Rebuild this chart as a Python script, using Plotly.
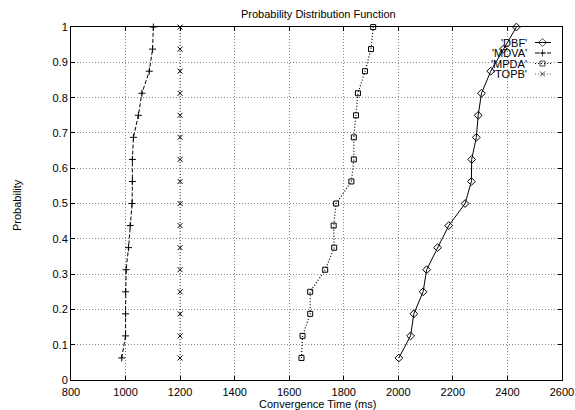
import plotly.graph_objects as go

prob = [0.0625, 0.125, 0.1875, 0.25, 0.3125, 0.375, 0.4375, 0.5,
        0.5625, 0.625, 0.6875, 0.75, 0.8125, 0.875, 0.9375, 1.0]

dbf = [2002, 2045, 2057, 2091, 2104, 2144, 2185, 2245,
       2268, 2269, 2286, 2293, 2305, 2339, 2385, 2433]
mdva = [986, 1000, 1000, 1000, 1002, 1011, 1017, 1024,
        1025, 1025, 1029, 1047, 1060, 1087, 1099, 1102]
mpda = [1645, 1649, 1677, 1677, 1732, 1765, 1763, 1772,
        1828, 1837, 1837, 1845, 1852, 1878, 1900, 1908]
topb = [1200] * 16

series_names = ["'DBF'", "'MDVA'", "'MPDA'", "'TOPB'"]
x_ticks = [800, 1000, 1200, 1400, 1600, 1800, 2000, 2200, 2400, 2600]
y_ticks = [0, 0.1, 0.2, 0.3, 0.4, 0.5, 0.6, 0.7, 0.8, 0.9, 1]
y_tick_labels = ["0", "0.1", "0.2", "0.3", "0.4", "0.5", "0.6", "0.7", "0.8", "0.9", "1"]

FONT = "Liberation Sans, Arial, Helvetica, sans-serif"

styles = [
    dict(dash="solid", color="black", symbol="diamond-open", size=6, width=1),
    dict(dash="4px,2px", color="black", symbol="cross-thin-open", size=5, width=1),
    dict(dash="1px,2px", color="black", symbol="square-open", size=5, width=1.2),
    dict(dash="1px,2px", color="#555555", symbol="x-thin-open", size=5, width=1),
]

fig = go.Figure()
for name, xs, st in zip(series_names, [dbf, mdva, mpda, topb], styles):
    fig.add_trace(go.Scatter(
        x=xs, y=prob, mode="lines+markers", name=name, showlegend=False,
        line=dict(color=st["color"], dash=st["dash"], width=st["width"]),
        marker=dict(symbol=st["symbol"], size=st["size"], color="black",
                    line=dict(color="black", width=1)),
        cliponaxis=False,
    ))

# plot-area pixel box
L, R, T, B = 71, 562, 27, 380

def px_x(p):
    return (p - L) / (R - L)

def px_y(p):
    return (B - p) / (B - T)

annotations = []
# custom legend (text then sample, gnuplot style)
rows = [42.5, 53, 63.5, 74]
for name, st, ry in zip(series_names, styles, rows):
    yy = px_y(ry)
    annotations.append(dict(
        x=px_x(529), y=yy, xref="paper", yref="paper", text=name,
        showarrow=False, xanchor="right", yanchor="middle",
        font=dict(family=FONT, size=11, color="black")))
    fig.add_trace(go.Scatter(
        x=[px_x(535), px_x(542.5), px_x(551)], y=[yy, yy, yy],
        xaxis="x2", yaxis="y2", mode="lines+markers", showlegend=False,
        line=dict(color=st["color"], dash=st["dash"], width=st["width"]),
        marker=dict(symbol=st["symbol"], size=[0, st["size"], 0], color="black",
                    line=dict(color="black", width=1)),
        hoverinfo="skip", cliponaxis=False,
    ))

annotations += [
    dict(text="Probability Distribution Function", x=px_x(318), y=px_y(14),
         xref="paper", yref="paper", showarrow=False,
         xanchor="center", yanchor="middle",
         font=dict(family=FONT, size=11, color="black")),
    dict(text="Convergence Time (ms)", x=px_x(317), y=px_y(403.5),
         xref="paper", yref="paper", showarrow=False,
         xanchor="center", yanchor="middle",
         font=dict(family=FONT, size=11, color="black")),
    dict(text="Probability", x=px_x(17), y=px_y(205),
         xref="paper", yref="paper", showarrow=False, textangle=-90,
         xanchor="center", yanchor="middle",
         font=dict(family=FONT, size=11, color="black")),
]

axis_common = dict(
    showline=True, linecolor="black", linewidth=1, mirror="ticks",
    ticks="inside", ticklen=4, tickcolor="black", tickwidth=1,
    showgrid=True, gridcolor="#888888", griddash="1px,2px", gridwidth=1,
    zeroline=False, automargin=False,
    tickfont=dict(family=FONT, size=11, color="black"),
)

fig.update_layout(
    width=575, height=410,
    margin=dict(l=L, r=575 - R, t=T, b=410 - B),
    paper_bgcolor="white", plot_bgcolor="white",
    xaxis=dict(range=[800, 2600.2], tickvals=x_ticks, ticklabelstandoff=2,
               ticklabeloverflow="allow", **axis_common),
    yaxis=dict(range=[0, 1.0002], tickvals=y_ticks, ticktext=y_tick_labels, **axis_common),
    xaxis2=dict(range=[0, 1], overlaying="x", visible=False),
    yaxis2=dict(range=[0, 1], overlaying="y", visible=False),
    showlegend=False,
    annotations=annotations,
)

fig.write_html(
    "out.html",
    config={"displayModeBar": False},
    post_script="document.body.style.margin='0px';document.body.style.overflow='hidden';",
)
